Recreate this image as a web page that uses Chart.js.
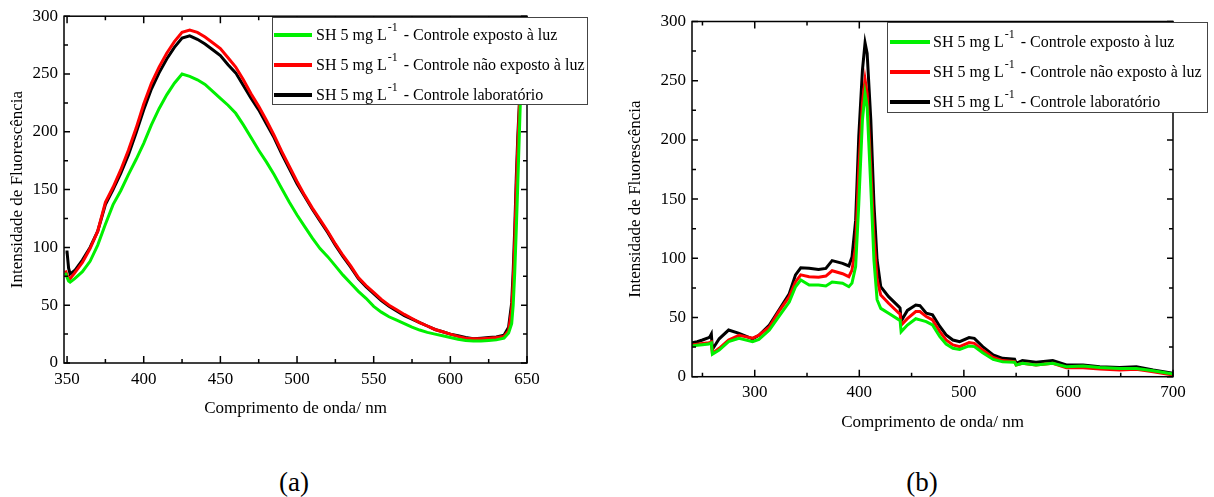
<!DOCTYPE html>
<html>
<head>
<meta charset="utf-8">
<script src="https://cdn.jsdelivr.net/npm/chart.js@4.4.1/dist/chart.umd.min.js"></script>
<style>
body{margin:0;background:#fff;width:1214px;height:497px;position:relative;overflow:hidden;font-family:"Liberation Serif",serif}
canvas{position:absolute;top:0}
#ca{left:0} #cb{left:600px}
.tag{position:absolute;top:466px;width:100px;text-align:center;font-size:27px;line-height:32px;color:#000}
</style>
</head>
<body>
<canvas id="ca" width="600" height="440"></canvas>
<canvas id="cb" width="614" height="440"></canvas>
<div class="tag" style="left:244px">(a)</div>
<div class="tag" style="left:872px">(b)</div>
<script>
// --- panel (a): emission spectra 348-650 nm
const waveA=[349,350,351,352,355,360,365,370,375,380,385,390,395,400,405,410,415,420,425,430,435,440,445,450,455,460,465,470,475,480,485,490,495,500,505,510,515,520,525,530,535,540,545,550,555,560,565,570,575,580,585,590,595,600,605,610,615,620,625,630,635,638,640,641,642,643,644,645,646,647];
const greenA=[78,74,71,70,73,79,88,102,120,137,149,163,176,190,206,220,232,242,250,248,245,241,235,229,223,216,206,195,184,174,163,151,139,128,118,108,99,92,84,76,69,62,56,49,44,40,37,34,31,28.5,26.5,25,23.5,22,20.5,19.5,19,19,19.5,20,21.5,26,34,50,78,115,155,198,240,300];
const redA=[80,76,74,73,78,87,99,114,139,152,167,184,203,224,242,256,268,278,286,288,286,282,277,272,264,256,245,233,222,210,197,183,170,157,145,134,124,114,103,93,84,74,67,61,55,50,46,42,38.5,35,32,29,27,25,23,21.5,21,21,21.5,22,23,28,46,70,105,150,188,220,258,310];
const blackA=[96,96,82,77,80,89,100,114,137,150,164,180,199,219,237,251,263,273,281,283,280,276,271,266,258,251,240,229,219,207,195,181,168,155,144,133,123,113,102,92,83,73,66,60,54,49,45,41,38,35,32,29,27,25,23.5,22,21,21.5,22,22.5,24,31,52,80,116,160,196,224,262,310];

// --- panel (b): 240-700 nm
const waveB=[240,245,250,256,257,258.5,259.5,266,275,285,298,304,314,323,333,339,344,352,361,368,374,384,390,393,396.5,399.5,403,405.5,407.5,411,414,417,420.5,428,438,439,440,446,454,458,464,470,477,483,489.5,496,505,510,518,528,537,548.5,550,556,569,585,598,614,630,649,665,681,700];
const greenB=[26,26.5,27,27.6,28,28.5,19,22.5,29.6,32.4,29.6,31.5,39.4,50.7,63,76,81.6,77.4,77.4,76.6,80,79,76,79,93,146,217,239,228,160,98.5,65,57.7,53.5,48,47.5,38,43.6,49,48,46.5,43.7,33.8,27.6,24,23,26,25.4,20.3,14.6,12.7,12.2,9.9,11.3,9.9,11.3,8.5,9,7.7,7,7,5,2.3];
const redB=[26.7,27.5,28,28.7,29,29.5,19.7,24,31,35,32.5,35,42,55,67.6,80,86,84.5,84,85,89.5,87,84.5,90,110,175,231,251,239,175,118,82,69,62,53.5,53,43.6,49,55,55,50.8,48,38,31,26.8,25.4,28.8,28.2,22.5,16.3,13.6,12.7,9.9,11.3,9.9,11.3,7.6,7.6,6.5,5.7,6.2,4.2,1.4];
const blackB=[28.7,29.5,31,33,33.5,36,23,32,39.4,36.6,32,35,43.6,56,70,86,92,91.5,90.6,91.5,98,95.7,93.5,101,132,203,259,282,273,217,146,98.5,76,67.6,59,58,47,56,60.5,60,53.6,52.2,42.4,35.3,31,29.6,33,32.4,25.4,18.3,15.5,14.7,11.3,13.6,12.2,13.6,9.9,9.9,8.5,7.7,8.5,5.7,2.9];

// ticks
const yMajor=[0,50,100,150,200,250,300], yMinor=[25,75,125,175,225,275];
const xMajorA=[350,400,450,500,550,600,650], xMinorA=[375,425,475,525,575,625];
const xMajorB=[300,400,500,600,700], xMinorB=[250,350,450,550,650];

const seriesNames=['Controle exposto à luz','Controle não exposto à luz','Controle laboratório'];
const seriesColors=['#00f000','#ff0000','#000000'];
const prefix='SH 5 mg L', sup='-1';
const FONT='"Liberation Serif", "Times New Roman", serif';

const frame={
  id:'frame',
  afterDatasetsDraw(chart,args,o){
    const {ctx,chartArea:a,scales:{x,y}}=chart;
    ctx.save();
    ctx.strokeStyle='#000'; ctx.lineWidth=1.5;
    ctx.strokeRect(a.left,a.top,a.right-a.left,a.bottom-a.top);
    const tx=(vals,len)=>vals.forEach(v=>{const p=x.getPixelForValue(v);
      ctx.beginPath();ctx.moveTo(p,a.bottom);ctx.lineTo(p,a.bottom-len);ctx.moveTo(p,a.top);ctx.lineTo(p,a.top+len);ctx.stroke();});
    const ty=(vals,len)=>vals.forEach(v=>{const p=y.getPixelForValue(v);
      ctx.beginPath();ctx.moveTo(a.left,p);ctx.lineTo(a.left+len,p);ctx.moveTo(a.right,p);ctx.lineTo(a.right-len,p);ctx.stroke();});
    tx(o.xMajor,7); tx(o.xMinor,4); ty(yMajor,6); ty(yMinor,4);
    ctx.restore();
  },
  afterDraw(chart,args,o){
    const ctx=chart.ctx, L=o.legend;
    ctx.save();
    ctx.fillStyle='#fff'; ctx.fillRect(L.x0,L.y0,L.x1-L.x0,L.y1-L.y0);
    ctx.strokeStyle='#444'; ctx.lineWidth=1; ctx.strokeRect(L.x0+.5,L.y0+.5,L.x1-L.x0,L.y1-L.y0);
    chart.data.datasets.forEach((d,i)=>{
      const yy=L.rows[i];
      ctx.strokeStyle=d.borderColor; ctx.lineWidth=4;
      ctx.beginPath(); ctx.moveTo(L.lx0,yy); ctx.lineTo(L.lx1,yy); ctx.stroke();
      ctx.fillStyle='#000'; ctx.textBaseline='middle'; ctx.textAlign='left';
      ctx.font='16px '+FONT;
      let tx=L.tx; ctx.fillText(prefix,tx,yy+1); tx+=ctx.measureText(prefix).width+1;
      ctx.font='12px '+FONT; ctx.fillText(sup,tx,yy-7); tx+=ctx.measureText(sup).width;
      ctx.font='16px '+FONT; ctx.fillText(' - '+seriesNames[i],tx+2,yy+1);
    });
    ctx.restore();
  }
};

function makeChart(id,wave,series,xr,xMajor,xMinor,pad,yTitlePad,legend){
  const datasets=series.map((s,i)=>({
    label:prefix+'⁻¹ - '+seriesNames[i],
    data:wave.map((w,j)=>({x:w,y:s[j]})),
    borderColor:seriesColors[i],borderWidth:3,pointRadius:0,tension:0
  }));
  return new Chart(document.getElementById(id),{
    type:'line',
    data:{datasets},
    plugins:[frame],
    options:{
      responsive:false,animation:false,devicePixelRatio:1,
      layout:{padding:pad},
      plugins:{legend:{display:false},tooltip:{enabled:false},frame:{xMajor,xMinor,legend}},
      scales:{
        x:{type:'linear',min:xr[0],max:xr[1],
          afterBuildTicks:s=>{s.ticks=xMajor.map(v=>({value:v}));},
          afterFit:s=>{s.height=60;},
          grid:{display:false,drawTicks:false},border:{display:false},
          ticks:{color:'#000',padding:6,font:{family:FONT,size:17},maxRotation:0},
          title:{display:true,text:'Comprimento de onda/ nm',color:'#000',font:{family:FONT,size:17},padding:{top:0,bottom:4}}},
        y:{min:0,max:300,
          afterBuildTicks:s=>{s.ticks=yMajor.map(v=>({value:v}));},
          afterFit:s=>{s.width=pad.yw;},
          grid:{display:false,drawTicks:false},border:{display:false},
          ticks:{color:'#000',padding:6,font:{family:FONT,size:17}},
          title:{display:true,text:'Intensidade de Fluorescência',color:'#000',font:{family:FONT,size:17},padding:{top:yTitlePad,bottom:0}}}
      }
    }
  });
}

makeChart('ca',waveA,[greenA,redA,blackA],[348,650],xMajorA,xMinorA,
  {left:0,top:16,right:73,bottom:17,yw:64},7,
  {x0:272,y0:17,x1:587,y1:104,lx0:274,lx1:312,tx:316,rows:[35,65,95]});
makeChart('cb',waveB,[greenB,redB,blackB],[240,700],xMajorB,xMinorB,
  {left:0,top:21.5,right:41,bottom:3.3,yw:92},25,
  {x0:287,y0:22,x1:607,y1:112,lx0:290,lx1:330,tx:333,rows:[42,72,102]});
</script>
</body>
</html>
